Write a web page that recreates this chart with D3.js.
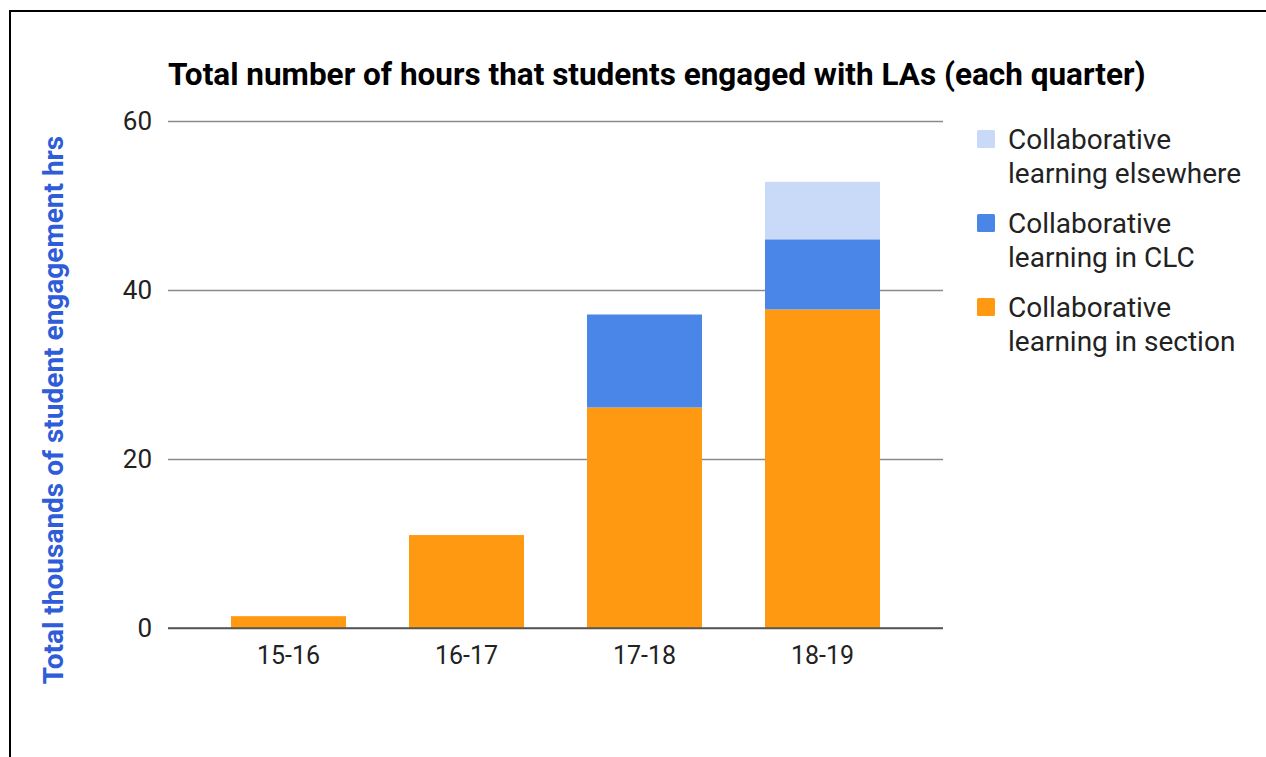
<!DOCTYPE html>
<html><head><meta charset="utf-8">
<script src="https://cdn.jsdelivr.net/npm/d3@7"></script>
<style>body{margin:0;background:#fff;} svg{display:block;font-family:Roboto,sans-serif;}</style>
</head><body>
<svg id="c" width="1266" height="757"></svg>
<script>
const categories = ["15-16", "16-17", "17-18", "18-19"];
const seriesNames = ["Collaborative learning in section", "Collaborative learning in CLC", "Collaborative learning elsewhere"];
const section = [1.4, 11.0, 26.1, 37.7];
const clc = [0, 0, 11.0, 8.3];
const elsewhere = [0, 0, 0, 6.8];
const yTicks = [0, 20, 40, 60];
const legendLines = [["Collaborative", "learning elsewhere"], ["Collaborative", "learning in CLC"], ["Collaborative", "learning in section"]];
const colors = ["#ff9912", "#4a86e8", "#c9daf8"];

const svg = d3.select("#c");
// frame lines (top and left)
svg.append("line").attr("x1", 9).attr("x2", 1266).attr("y1", 11).attr("y2", 11).attr("stroke", "#000").attr("stroke-width", 2);
svg.append("line").attr("x1", 10).attr("x2", 10).attr("y1", 10).attr("y2", 757).attr("stroke", "#000").attr("stroke-width", 2);

const L = 168, R = 943, T = 121, B = 628;
const x = d3.scaleBand().domain(categories).range([L, R]).paddingInner(0.354).paddingOuter(0.354);
const y = d3.scaleLinear().domain([0, 60]).range([B, T]);

// gridlines
const yAxis = d3.axisLeft(y).tickValues(yTicks).tickSize(-(R - L)).tickPadding(16);
const gy = svg.append("g").attr("transform", `translate(${L},0)`).call(yAxis);
gy.select(".domain").remove();
gy.selectAll(".tick line").attr("stroke", (d) => d === 0 ? "#555" : "#8a8a8a").attr("stroke-width", (d) => d === 0 ? 1.6 : 1.3);
gy.selectAll(".tick text").attr("font-size", 26).attr("fill", "#222").attr("font-family", "Roboto");

const data = categories.map((c, i) => ({cat: c, s0: section[i], s1: clc[i], s2: elsewhere[i]}));
const stack = d3.stack().keys(["s0", "s1", "s2"])(data);

svg.append("g").selectAll("g").data(stack).join("g").attr("fill", (d, i) => colors[i])
  .selectAll("rect").data(d => d.filter(p => p[1] - p[0] > 0)).join("rect")
  .attr("x", d => x(d.data.cat)).attr("width", x.bandwidth())
  .attr("y", d => y(d[1])).attr("height", d => y(d[0]) - y(d[1]));

// redraw baseline on top
svg.append("line").attr("x1", L).attr("x2", R).attr("y1", y(0)).attr("y2", y(0)).attr("stroke", "#555").attr("stroke-width", 1.6);

// x axis labels
const xAxis = d3.axisBottom(x).tickSize(0).tickPadding(18);
const gx = svg.append("g").attr("transform", `translate(0,${B})`).call(xAxis);
gx.select(".domain").remove();
gx.selectAll(".tick text").attr("font-size", 25).attr("fill", "#222").attr("font-family", "Roboto");

// title
svg.append("text").attr("x", 168).attr("y", 85).attr("font-size", 31.5).attr("font-weight", "bold").attr("fill", "#000")
  .text("Total number of hours that students engaged with LAs (each quarter)");

// y axis title
svg.append("text").attr("transform", "translate(63,410) rotate(-90)").attr("text-anchor", "middle")
  .attr("font-size", 28).attr("font-weight", "bold").attr("fill", "#2f5cd8")
  .text("Total thousands of student engagement hrs");

// legend
const legColors = [colors[2], colors[1], colors[0]];
const lg = svg.append("g");
legendLines.forEach((lines, i) => {
  const yy = 139 + i * 84;
  lg.append("rect").attr("x", 977).attr("y", yy - 9).attr("width", 18).attr("height", 18).attr("rx", 1.5).attr("fill", legColors[i]);
  lines.forEach((t, j) => {
    lg.append("text").attr("x", 1008).attr("y", yy + 10 + j * 34).attr("font-size", 28).attr("fill", "#222").text(t);
  });
});
</script>
</body></html>
